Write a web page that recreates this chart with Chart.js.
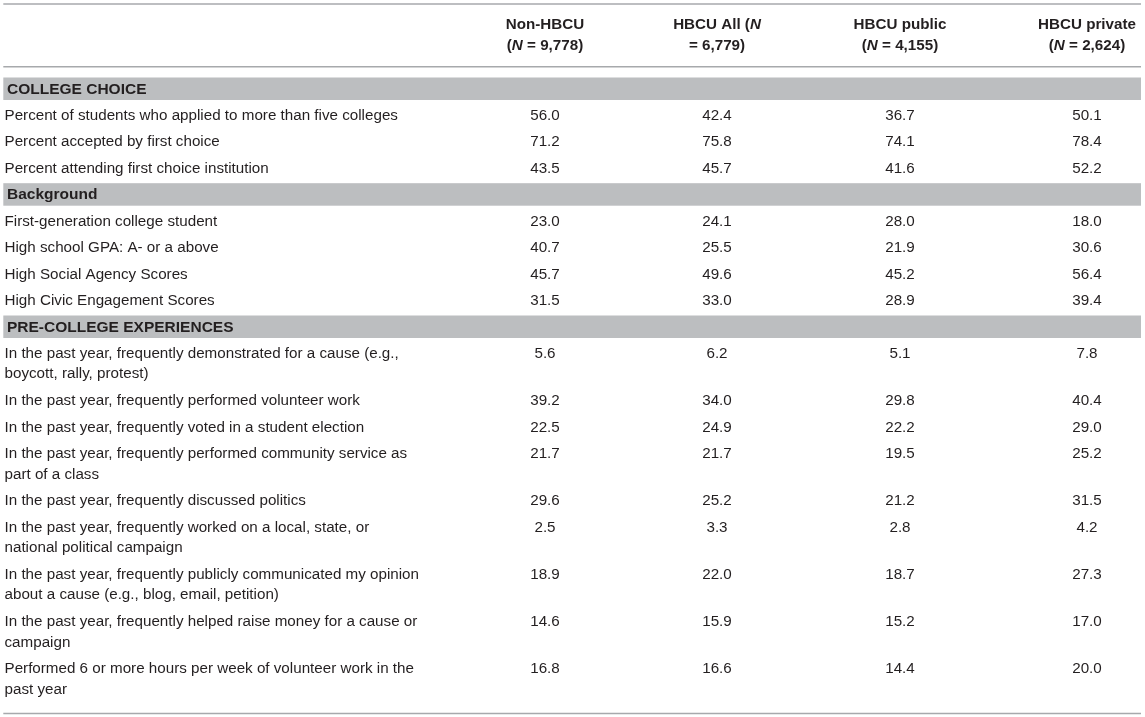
<!DOCTYPE html>
<html>
<head>
<meta charset="utf-8">
<script src="https://cdn.jsdelivr.net/npm/chart.js@4.4.1/dist/chart.umd.min.js"></script>
<style>
  html, body { margin: 0; padding: 0; background: #ffffff; }
  #wrap { position: relative; width: 1145px; height: 717px; }
</style>
</head>
<body>
<div id="wrap"><canvas id="c"></canvas></div>
<script>
// ---------------- DATA ----------------
const seriesNames = ['Non-HBCU', 'HBCU All', 'HBCU public', 'HBCU private'];
// header lines (*N* marks the italic N)
const headerLine1 = ['Non-HBCU', 'HBCU All (*N*', 'HBCU public', 'HBCU private'];
const headerLine2 = ['(*N* = 9,778)', '= 6,779)', '(*N* = 4,155)', '(*N* = 2,624)'];

const sectionTitles = ['COLLEGE CHOICE', 'Background', 'PRE-COLLEGE EXPERIENCES'];

const collegeChoiceRows = [
  ['Percent of students who applied to more than five colleges'],
  ['Percent accepted by first choice'],
  ['Percent attending first choice institution']
];
const backgroundRows = [
  ['First-generation college student'],
  ['High school GPA: A- or a above'],
  ['High Social Agency Scores'],
  ['High Civic Engagement Scores']
];
const preCollegeRows = [
  ['In the past year, frequently demonstrated for a cause (e.g.,', 'boycott, rally, protest)'],
  ['In the past year, frequently performed volunteer work'],
  ['In the past year, frequently voted in a student election'],
  ['In the past year, frequently performed community service as', 'part of a class'],
  ['In the past year, frequently discussed politics'],
  ['In the past year, frequently worked on a local, state, or', 'national political campaign'],
  ['In the past year, frequently publicly communicated my opinion', 'about a cause (e.g., blog, email, petition)'],
  ['In the past year, frequently helped raise money for a cause or', 'campaign'],
  ['Performed 6 or more hours per week of volunteer work in the', 'past year']
];

const nonHbcu     = [56.0, 71.2, 43.5, 23.0, 40.7, 45.7, 31.5, 5.6, 39.2, 22.5, 21.7, 29.6, 2.5, 18.9, 14.6, 16.8];
const hbcuAll     = [42.4, 75.8, 45.7, 24.1, 25.5, 49.6, 33.0, 6.2, 34.0, 24.9, 21.7, 25.2, 3.3, 22.0, 15.9, 16.6];
const hbcuPublic  = [36.7, 74.1, 41.6, 28.0, 21.9, 45.2, 28.9, 5.1, 29.8, 22.2, 19.5, 21.2, 2.8, 18.7, 15.2, 14.4];
const hbcuPrivate = [50.1, 78.4, 52.2, 18.0, 30.6, 56.4, 39.4, 7.8, 40.4, 29.0, 25.2, 31.5, 4.2, 27.3, 17.0, 20.0];

// ---------------- LAYOUT (in reference units) ----------------
const W = 1145, H = 717;
const COL_X = [545, 717, 900, 1087];
const LABEL_X = 4.5, SECTION_X = 7;
const TABLE_LEFT = 3.3, TABLE_RIGHT = 1141;
const TOP_RULE = 4, HEADER_RULE = 66.7;
const HEADER_L1 = 25, HEADER_L2 = 46.3;
const LINE_H = 20.5, ROW_PAD = 6.1;
const BAND_H = 22.5, BAND_GAP_ABOVE = 1.0, BAND_GAP_BELOW = 2.4, RULE_GAP = 10.8;

const FONT_FAMILY = '"Liberation Sans", Arial, Helvetica, sans-serif';
const FONT_SIZE = 15.2;
const BOLD_SIZE = 15.5;
const TEXT_COLOR = '#231f20';
const BAND_COLOR = '#bcbec0';
const RULE_COLOR = '#a7a9ac';

const sectionRows = [collegeChoiceRows, backgroundRows, preCollegeRows];
const series = [nonHbcu, hbcuAll, hbcuPublic, hbcuPrivate];

// compute row / band positions from the row structure
const bands = [];
const rows = [];
let cursor = HEADER_RULE + RULE_GAP;
sectionTitles.forEach((title, s) => {
  const top = s === 0 ? cursor : cursor + BAND_GAP_ABOVE;
  bands.push({ title, top, bottom: top + BAND_H });
  cursor = top + BAND_H + BAND_GAP_BELOW;
  sectionRows[s].forEach(lines => {
    const centers = lines.map((_, k) => cursor + ROW_PAD / 2 + LINE_H / 2 + k * LINE_H);
    rows.push({ lines, centers });
    cursor += lines.length * LINE_H + ROW_PAD;
  });
});
const BOTTOM_RULE = cursor + RULE_GAP;

const datasets = series.map((vals, c) => ({
  label: seriesNames[c],
  data: vals.map((v, r) => ({ x: COL_X[c], y: rows[r].centers[0], v })),
  pointRadius: 0,
  pointHoverRadius: 0,
  showLine: false
}));

// draw rich text with *italic* segments, centred or left aligned
function drawRich(ctx, str, x, y, weight, align, size) {
  const parts = str.split('*');
  const fonts = parts.map((p, i) => (i % 2 ? 'italic ' : '') + weight + ' ' + size + 'px ' + FONT_FAMILY);
  let total = 0;
  const widths = parts.map((p, i) => { ctx.font = fonts[i]; const w = ctx.measureText(p).width; total += w; return w; });
  let cx = align === 'center' ? x - total / 2 : x;
  ctx.textAlign = 'left';
  parts.forEach((p, i) => { ctx.font = fonts[i]; ctx.fillText(p, cx, y); cx += widths[i]; });
}

const tablePlugin = {
  id: 'tablePlugin',
  beforeDatasetsDraw(chart) {
    const { ctx, scales: { x, y } } = chart;
    ctx.save();
    const xl = x.getPixelForValue(TABLE_LEFT), xr = x.getPixelForValue(TABLE_RIGHT);
    ctx.fillStyle = BAND_COLOR;
    bands.forEach(b => {
      const t = y.getPixelForValue(b.top), btm = y.getPixelForValue(b.bottom);
      ctx.fillRect(xl, t, xr - xl, btm - t);
    });
    ctx.strokeStyle = RULE_COLOR;
    ctx.lineWidth = 1.5;
    [TOP_RULE, HEADER_RULE, BOTTOM_RULE].forEach(v => {
      const py = y.getPixelForValue(v);
      ctx.beginPath(); ctx.moveTo(xl, py); ctx.lineTo(xr, py); ctx.stroke();
    });
    ctx.restore();
  },
  afterDatasetsDraw(chart) {
    const { ctx, scales: { x, y } } = chart;
    ctx.save();
    ctx.fillStyle = TEXT_COLOR;
    ctx.textBaseline = 'middle';
    headerLine1.forEach((t, c) => drawRich(ctx, t, x.getPixelForValue(COL_X[c]), y.getPixelForValue(HEADER_L1), 'bold', 'center', FONT_SIZE));
    headerLine2.forEach((t, c) => drawRich(ctx, t, x.getPixelForValue(COL_X[c]), y.getPixelForValue(HEADER_L2), 'bold', 'center', FONT_SIZE));
    bands.forEach(b => drawRich(ctx, b.title, x.getPixelForValue(SECTION_X), y.getPixelForValue((b.top + b.bottom) / 2 + 0.5), 'bold', 'left', BOLD_SIZE));
    rows.forEach(r => r.lines.forEach((ln, k) => drawRich(ctx, ln, x.getPixelForValue(LABEL_X), y.getPixelForValue(r.centers[k]), 'normal', 'left', FONT_SIZE)));
    ctx.textAlign = 'center';
    ctx.font = 'normal ' + FONT_SIZE + 'px ' + FONT_FAMILY;
    chart.data.datasets.forEach((ds, i) => {
      const meta = chart.getDatasetMeta(i);
      meta.data.forEach((pt, j) => {
        ctx.fillText(ds.data[j].v.toFixed(1), pt.x, pt.y);
      });
    });
    ctx.restore();
  }
};

new Chart(document.getElementById('c'), {
  type: 'scatter',
  data: { datasets },
  options: {
    responsive: true,
    maintainAspectRatio: false,
    animation: false,
    layout: { padding: 0 },
    plugins: { legend: { display: false }, tooltip: { enabled: false } },
    events: [],
    scales: {
      x: { type: 'linear', min: 0, max: W, display: false },
      y: { type: 'linear', min: 0, max: H, reverse: true, display: false }
    }
  },
  plugins: [tablePlugin]
});
</script>
</body>
</html>
